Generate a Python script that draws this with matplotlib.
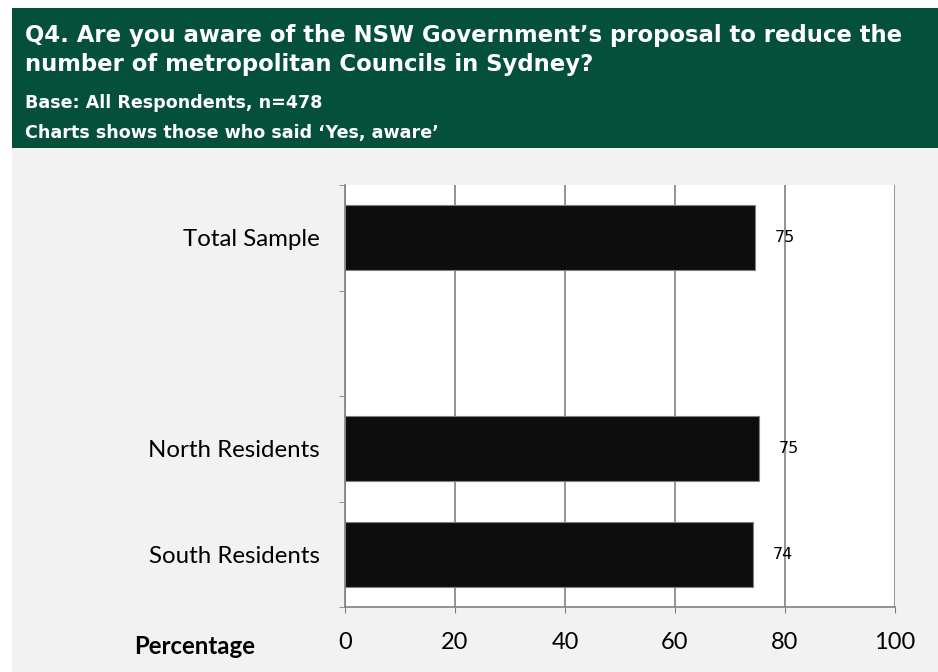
import matplotlib.pyplot as plt
from matplotlib.patches import Rectangle
import numpy as np

# data
categories = ["Total Sample", "", "North Residents", "South Residents"]
values = [74.6, np.nan, 75.3, 74.1]
value_labels = ["75", "", "75", "74"]
x_ticks = [0, 20, 40, 60, 80, 100]

title_lines = [
    "Q4. Are you aware of the NSW Government\u2019s proposal to reduce the",
    "number of metropolitan Councils in Sydney?",
]
sub_lines = ["Base: All Respondents, n=478", "Charts shows those who said \u2018Yes, aware\u2019"]

W, H = 938, 672
fig = plt.figure(figsize=(W / 100, H / 100), dpi=100, facecolor="white")

# grey panel and green header
fig.patches.append(Rectangle((12 / W, 0), 1 - 12 / W, 1 - 148 / H, transform=fig.transFigure,
                             facecolor="#F2F2F2", edgecolor="none", zorder=0))
fig.patches.append(Rectangle((12 / W, 1 - 148 / H), 1 - 12 / W, 140 / H, transform=fig.transFigure,
                             facecolor="#05503A", edgecolor="none", zorder=0))

# header text (baselines in pixels)
for txt, y, fs in [(title_lines[0], 42, 16.4), (title_lines[1], 71, 16.4),
                   (sub_lines[0], 108, 12.6), (sub_lines[1], 138, 12.6)]:
    fig.text(25 / W, 1 - y / H, txt, color="white", fontsize=fs, fontweight="bold",
             family="DejaVu Sans", va="baseline", ha="left")

ax = fig.add_axes([345 / W, 1 - 607 / H, 550 / W, 422 / H])
ax.set_zorder(2)
ax.set_facecolor("white")

ypos = np.arange(len(categories))
for y, v, lab in zip(ypos, values, value_labels):
    if np.isnan(v):
        continue
    ax.barh(y, v, height=0.62, color="#0D0D0D", edgecolor="#808080", linewidth=0.8, zorder=3)
    ax.text(v + 3.6, y, lab, va="center", ha="left", fontsize=11.5, family="DejaVu Sans", zorder=4)

ax.set_xlim(0, 100)
ax.set_ylim(len(categories) - 0.5, -0.5)
ax.set_xticks(x_ticks)
ax.set_xticklabels([str(t) for t in x_ticks], fontsize=17, family="Lato")
ax.set_yticks(ypos)
ax.set_yticklabels(categories, fontsize=17.3, family="Lato")
ax.set_yticks(np.arange(len(categories) + 1) - 0.5, minor=True)
ax.tick_params(axis="y", which="major", length=0, pad=18)
ax.tick_params(axis="y", which="minor", length=4, color="#808080", direction="out")
ax.tick_params(axis="x", which="major", length=4, color="#808080", direction="out", pad=14)

ax.grid(axis="x", color="#808080", linewidth=1.2, zorder=1)
for s in ["top", "right"]:
    ax.spines[s].set_visible(False)
for s in ["left", "bottom"]:
    ax.spines[s].set_color("#808080")
    ax.spines[s].set_linewidth(1.2)

fig.text(195 / W, 1 - 647 / H, "Percentage", fontsize=17.3, fontweight="bold", family="Lato",
         ha="center", va="center")

fig.savefig("out.png", dpi=100, facecolor=fig.get_facecolor())
